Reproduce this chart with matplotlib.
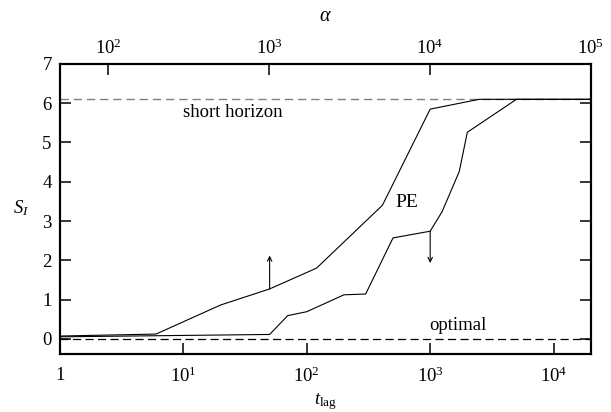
import numpy as np
import matplotlib
matplotlib.use("Agg")
import matplotlib.pyplot as plt
from matplotlib.ticker import FixedLocator, FixedFormatter, NullLocator

# ---- data ----
t_upper = [1, 6, 20, 50, 120, 410, 1000, 2500, 2e4]
s_upper = [0.07, 0.12, 0.86, 1.27, 1.80, 3.40, 5.85, 6.1, 6.1]

t_lower = [1, 50, 70, 100, 200, 300, 500, 1000, 1250, 1720, 2000, 5000, 2e4]
s_lower = [0.05, 0.11, 0.59, 0.69, 1.12, 1.14, 2.57, 2.74, 3.24, 4.26, 5.26, 6.1, 6.1]

short_horizon = 6.1
optimal = 0.0

# arrows: (t, start, end)
arrow_up = (50, 1.27, 2.12)
arrow_down = (1000, 2.74, 1.93)

bottom_ticks = [1, 10, 100, 1000, 10000]
bottom_labels = ["1", r"$10^{1}$", r"$10^{2}$", r"$10^{3}$", r"$10^{4}$"]
top_ticks = [1e2, 1e3, 1e4, 1e5]
top_labels = [r"$10^{2}$", r"$10^{3}$", r"$10^{4}$", r"$10^{5}$"]
y_ticks = [0, 1, 2, 3, 4, 5, 6, 7]

plt.rcParams["font.family"] = ["Liberation Serif", "DejaVu Serif"]
plt.rcParams["mathtext.fontset"] = "custom"
plt.rcParams["mathtext.rm"] = "Liberation Serif"
plt.rcParams["mathtext.it"] = "Liberation Serif:italic"
plt.rcParams["font.size"] = 13.5

fs = 13.5

fig = plt.figure(figsize=(6.11, 4.12), dpi=100)
ax = fig.add_axes([0.0982, 0.1396, 0.9668 - 0.0982, 0.8447 - 0.1396])

ax.set_xscale("log")
ax.set_xlim(1, 2e4)
ax.set_ylim(-0.4, 7)

# reference levels
ax.plot([1, 2e4], [short_horizon, short_horizon], color="#808080", lw=1.0,
        dashes=(6, 3.5))
ax.plot([1, 2e4], [optimal, optimal], color="black", lw=0.9, dashes=(6.5, 3.5))

# PE curves
ax.plot(t_upper, s_upper, color="black", lw=0.8)
ax.plot(t_lower, s_lower, color="black", lw=0.8)

for t, y0, y1 in (arrow_up, arrow_down):
    ax.annotate("", xy=(t, y1), xytext=(t, y0),
                arrowprops=dict(arrowstyle="->", lw=0.8, color="black",
                                shrinkA=0, shrinkB=0, mutation_scale=8))

ax.text(25, 5.76, "short horizon", ha="center", va="center", fontsize=fs)
ax.text(650, 3.46, "PE", ha="center", va="center", fontsize=fs + 0.5)
ax.text(1690, 0.34, "optimal", ha="center", va="center", fontsize=fs)

ax.xaxis.set_major_locator(FixedLocator(bottom_ticks))
ax.xaxis.set_major_formatter(FixedFormatter(bottom_labels))
ax.xaxis.set_minor_locator(NullLocator())
ax.set_yticks(y_ticks)
ax.tick_params(axis="both", direction="in", length=8, width=1.1,
               labelsize=fs, pad=8)
ax.tick_params(axis="y", right=True, pad=6)
ax.tick_params(axis="x", top=False, pad=9)

ax.set_xlabel(r"$t_{\rm lag}$", fontsize=fs, va="center")
ax.xaxis.set_label_coords(0.5, -0.162)
ax.set_ylabel(r"$S_I$", fontsize=fs, rotation=0, va="center", ha="center")
ax.yaxis.set_label_coords(-0.074, 0.504)

for sp in ax.spines.values():
    sp.set_linewidth(1.5)

# top axis: alpha
ax2 = ax.twiny()
ax2.set_xscale("log")
ax2.set_xlim(50, 1e5)
ax2.xaxis.set_major_locator(FixedLocator(top_ticks))
ax2.xaxis.set_major_formatter(FixedFormatter(top_labels))
ax2.xaxis.set_minor_locator(NullLocator())
ax2.tick_params(axis="x", direction="in", length=8, width=1.1,
                labelsize=fs, pad=4)
ax2.set_xlabel(r"$\alpha$", fontsize=fs + 1, va="center")
ax2.xaxis.set_label_coords(0.5, 1.162)
for sp in ax2.spines.values():
    sp.set_linewidth(1.5)

fig.savefig("out.png", dpi=100)
